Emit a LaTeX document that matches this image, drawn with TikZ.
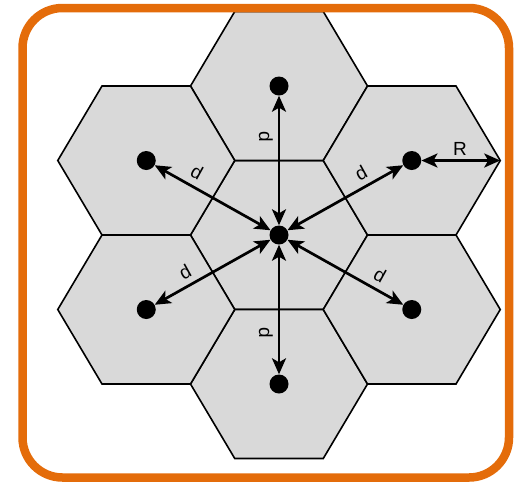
\documentclass[tikz,border=0pt]{standalone}
\usepackage{fontspec}
\setmainfont{Liberation Sans}
\usetikzlibrary{arrows.meta}
\definecolor{hexgray}{RGB}{217,217,217}
\definecolor{frameorange}{RGB}{228,108,10}
\begin{document}
\begin{tikzpicture}[x=1pt,y=-1pt,
  hexcell/.style={fill=hexgray,draw=black,line width=1.6pt,line join=miter},
  dotnode/.style={circle,fill=black,inner sep=0pt,minimum size=19pt},
  dist/.style={line width=2.7pt,{Stealth[length=16pt,width=14pt,inset=4pt]}-{Stealth[length=16pt,width=14pt,inset=4pt]}},
  lbl/.style={font=\fontsize{19}{19}\selectfont,inner sep=0pt}]
\useasboundingbox (0,0) rectangle (518,483);
% hexagonal cells
\foreach \cx/\cy in {279/235, 279/86, 279/384, 146.25/160.5, 411.75/160.5, 146.25/309.5, 411.75/309.5}{
  \draw[hexcell] ({\cx-88.5},{\cy}) -- ({\cx-44.25},{\cy-74.5}) -- ({\cx+44.25},{\cy-74.5})
    -- ({\cx+88.5},{\cy}) -- ({\cx+44.25},{\cy+74.5}) -- ({\cx-44.25},{\cy+74.5}) -- cycle;
}
% centre dots
\node[dotnode] (c)  at (279,235) {};
\node[dotnode] (n)  at (279,86) {};
\node[dotnode] (s)  at (279,384) {};
\node[dotnode] (nw) at (146.25,160.5) {};
\node[dotnode] (ne) at (411.75,160.5) {};
\node[dotnode] (sw) at (146.25,309.5) {};
\node[dotnode] (se) at (411.75,309.5) {};
\coordinate (rv) at (500.25,160.5);
% distance arrows
\draw[dist] (c) -- (n);
\draw[dist] (c) -- (s);
\draw[dist] (c) -- (nw);
\draw[dist] (c) -- (ne);
\draw[dist] (c) -- (sw);
\draw[dist] (c) -- (se);
\draw[dist] (ne) -- (rv);
% labels
\node[lbl,rotate=-90] (ln)  at (266,137) {d};
\node[lbl,rotate=-90] (ls)  at (266,333) {d};
\node[lbl,rotate=-29] (lnw) at (197,172) {d};
\node[lbl,rotate=29]  (lne) at (361,173) {d};
\node[lbl,rotate=29]  (lsw) at (185,272) {d};
\node[lbl,rotate=-29] (lse) at (380,275) {d};
\node[lbl] (lr) at (460,149) {R};
% frame
\draw[frameorange,line width=8.5pt,rounded corners=40pt] (22.5,8) rectangle (509,477.5);
\end{tikzpicture}
\end{document}
